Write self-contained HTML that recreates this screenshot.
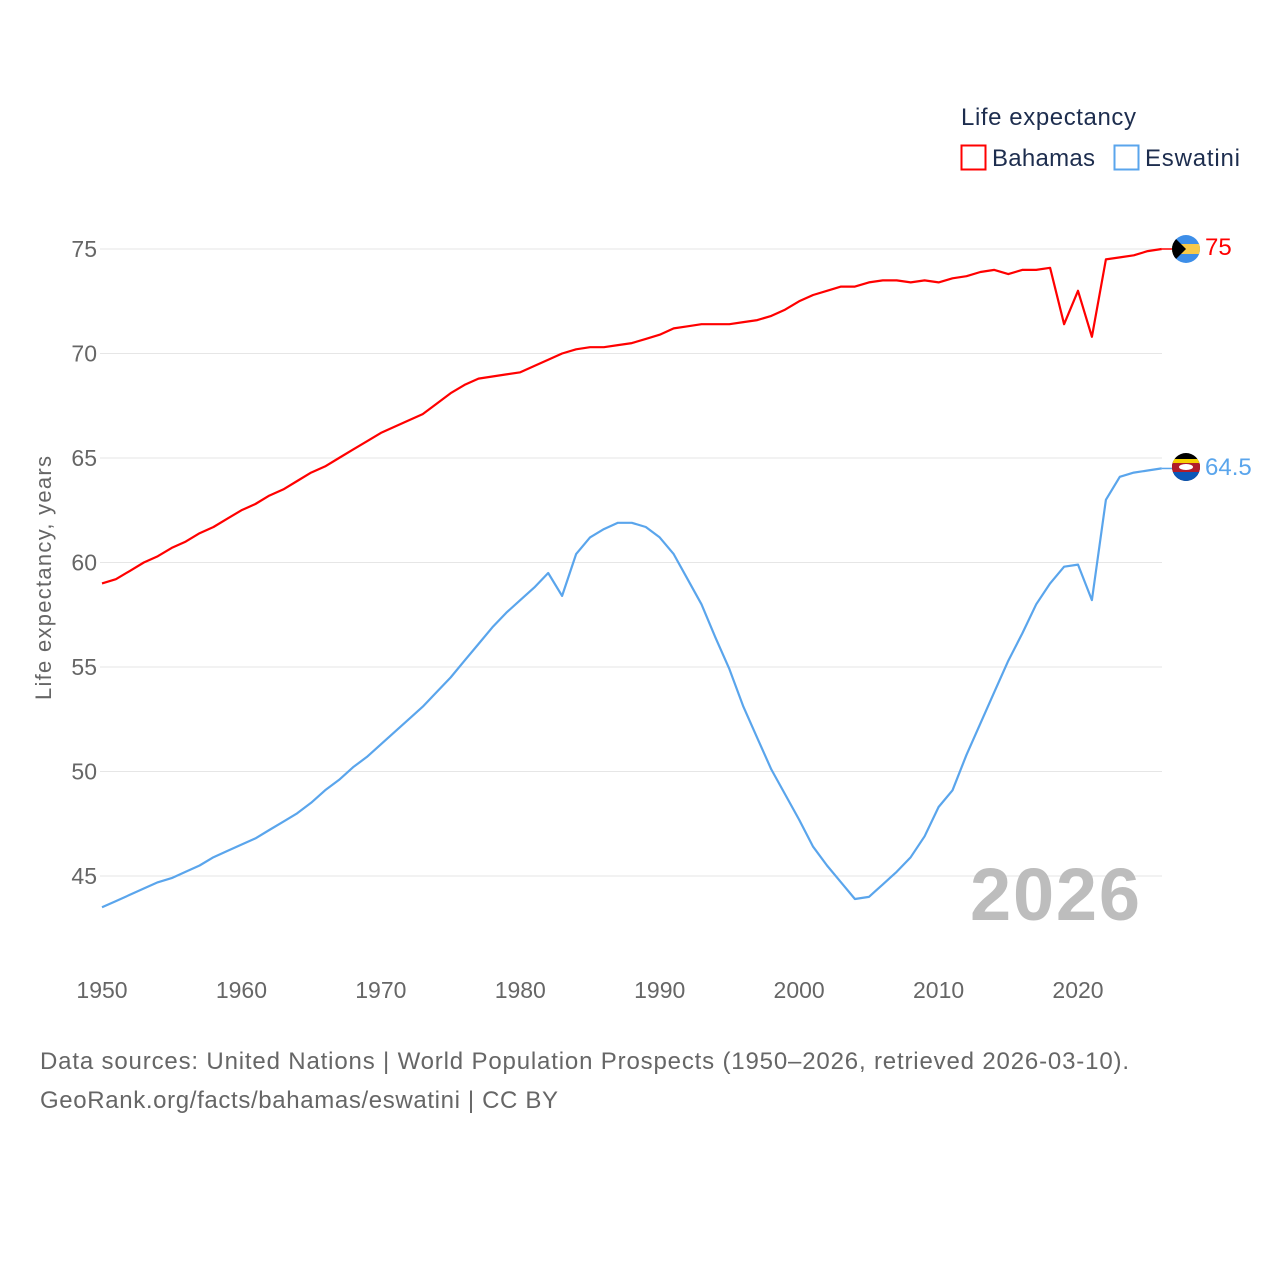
<!DOCTYPE html>
<html><head><meta charset="utf-8"><style>
body{margin:0;background:#fff;font-family:"Liberation Sans",sans-serif}
svg{display:block}
</style></head><body>
<svg id="c" width="1280" height="1280" xmlns="http://www.w3.org/2000/svg">
<text x="961" y="125" font-size="24" fill="#1d2d4e" textLength="175">Life expectancy</text>
<g>
<rect x="961.5" y="145.5" width="24" height="24" fill="none" stroke="#f00" stroke-width="2"/>
<text x="992" y="166" font-size="24" fill="#1d2d4e" textLength="103">Bahamas</text></g>
<g>
<rect x="1114.5" y="145.5" width="24" height="24" fill="none" stroke="#5aa5ec" stroke-width="2"/>
<text x="1145" y="166" font-size="24" fill="#1d2d4e" textLength="95">Eswatini</text></g>
<text transform="translate(51,578) rotate(-90)" text-anchor="middle" font-size="22" fill="#666" textLength="244">Life expectancy, years</text>
<g id="grid"></g><g id="ylab"></g><g id="xlab"></g>
<text x="1140" y="920" text-anchor="end" font-size="74" font-weight="bold" fill="#bdbdbd" textLength="170">2026</text>
<g id="lines"></g>
<g>
<clipPath id="cb"><circle cx="1186" cy="249" r="14"/></clipPath>
<g clip-path="url(#cb)"><rect x="1172" y="235" width="28" height="28" fill="#3d8ee8"/><rect x="1172" y="244" width="28" height="10" fill="#f7c948"/><polygon points="1172,235 1186,249 1172,263" fill="#000"/></g></g>
<g>
<clipPath id="ce"><circle cx="1186" cy="467" r="14"/></clipPath>
<g clip-path="url(#ce)"><rect x="1172" y="453" width="28" height="28" fill="#000"/><rect x="1172" y="472" width="28" height="9" fill="#0b57b8"/><rect x="1172" y="459" width="28" height="4" fill="#f5d000"/><rect x="1172" y="463" width="28" height="9" fill="#b01d2b"/><ellipse cx="1186" cy="467" rx="7" ry="3" fill="#fff"/></g></g>
<text x="1205" y="255" font-size="24" fill="#f00">75</text>
<text x="1205" y="475" font-size="24" fill="#5aa5ec">64.5</text>
<text x="40" y="1069" font-size="24" fill="#666" textLength="1089">Data sources: United Nations | World Population Prospects (1950–2026, retrieved 2026-03-10).</text>
<text x="40" y="1108" font-size="24" fill="#666" textLength="518">GeoRank.org/facts/bahamas/eswatini | CC BY</text>
</svg>
<script>
const years=[];for(let y=1950;y<=2026;y++)years.push(y);
const bahamas=[59.0,59.2,59.6,60.0,60.3,60.7,61.0,61.4,61.7,62.1,62.5,62.8,63.2,63.5,63.9,64.3,64.6,65.0,65.4,65.8,66.2,66.5,66.8,67.1,67.6,68.1,68.5,68.8,68.9,69.0,69.1,69.4,69.7,70.0,70.2,70.3,70.3,70.4,70.5,70.7,70.9,71.2,71.3,71.4,71.4,71.4,71.5,71.6,71.8,72.1,72.5,72.8,73.0,73.2,73.2,73.4,73.5,73.5,73.4,73.5,73.4,73.6,73.7,73.9,74.0,73.8,74.0,74.0,74.1,71.4,73.0,70.8,74.5,74.6,74.7,74.9,75.0];
const eswatini=[43.5,43.8,44.1,44.4,44.7,44.9,45.2,45.5,45.9,46.2,46.5,46.8,47.2,47.6,48.0,48.5,49.1,49.6,50.2,50.7,51.3,51.9,52.5,53.1,53.8,54.5,55.3,56.1,56.9,57.6,58.2,58.8,59.5,58.4,60.4,61.2,61.6,61.9,61.9,61.7,61.2,60.4,59.2,58.0,56.4,54.9,53.1,51.6,50.1,48.9,47.7,46.4,45.5,44.7,43.9,44.0,44.6,45.2,45.9,46.9,48.3,49.1,50.8,52.3,53.8,55.3,56.6,58.0,59.0,59.8,59.9,58.2,63.0,64.1,64.3,64.4,64.5];
const yTicks=[45,50,55,60,65,70,75];
const xTicks=[1950,1960,1970,1980,1990,2000,2010,2020];
const NS="http://www.w3.org/2000/svg";
const X=y=>102+(y-1950)*(1078-102)/70;
const Y=v=>249+(75-v)*20.9;
function mk(t,a,p){const e=document.createElementNS(NS,t);for(const k in a)e.setAttribute(k,a[k]);p.appendChild(e);return e;}
const g=document.getElementById('grid'),yl=document.getElementById('ylab'),xl=document.getElementById('xlab'),ln=document.getElementById('lines');
yTicks.forEach(v=>{
const l=mk('line',{x1:100,x2:1162,y1:Y(v),y2:Y(v),stroke:'#e6e6e6','stroke-width':1},g);


const t=mk('text',{x:97,y:Y(v)+8,'text-anchor':'end','font-size':23,fill:'#666'},yl);t.textContent=v;


});
xTicks.forEach(v=>{
const t=mk('text',{x:X(v),y:998,'text-anchor':'middle','font-size':23,fill:'#666'},xl);t.textContent=v;


});
function line(arr,col,name){
const d=arr.map((v,i)=>(i?'L':'M')+X(years[i]).toFixed(1)+','+Y(v).toFixed(1)).join('');
const p=mk('path',{d:d,fill:'none',stroke:col,'stroke-width':2.2,'stroke-linejoin':'round'},ln);


const last=arr[arr.length-1];
mk('line',{x1:X(2026),x2:1172,y1:Y(last),y2:Y(last),stroke:col,'stroke-width':1.5},ln);
}
line(bahamas,'#f00','bahamas-line');
line(eswatini,'#5aa5ec','eswatini-line');
</script>
</body></html>
